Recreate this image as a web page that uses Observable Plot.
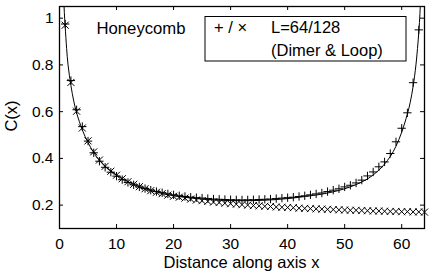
<!DOCTYPE html>
<html><head><meta charset="utf-8">
<script src="https://cdn.jsdelivr.net/npm/d3@7"></script>
<script src="https://cdn.jsdelivr.net/npm/@observablehq/plot@0.6"></script>
<style>body{margin:0;background:#fff} svg{display:block}</style>
</head><body><div id="chart"></div>
<script>
// L=64 (dimer), "+" markers
const plusX = [1,2,3,4,5,6,7,8,9,10,11,12,13,14,15,16,17,18,19,20,21,22,23,24,25,26,27,28,29,30,31,32,
  33,34,35,36,37,38,39,40,41,42,43,44,45,46,47,48,49,50,51,52,53,54,55,56,57,58,59,60,61,62,63];
const plusC = [0.975,0.733,0.608,0.536,0.474,0.424,0.388,0.362,0.341,0.324,0.309,0.297,0.287,0.278,0.271,0.264,
  0.258,0.253,0.248,0.244,0.240,0.237,0.234,0.232,0.230,0.228,0.226,0.225,0.224,0.223,0.2225,0.222,
  0.2225,0.223,0.224,0.225,0.226,0.228,0.230,0.232,0.234,0.237,0.240,0.244,0.248,0.252,0.258,0.264,
  0.270,0.278,0.285,0.295,0.307,0.325,0.342,0.364,0.385,0.421,0.471,0.529,0.595,0.724,0.950];
// L=128 (loop), "x" markers
const timesX = [1,2,3,4,5,6,7,8,9,10,11,12,13,14,15,16,17,18,19,20,21,22,23,24,25,26,27,28,29,30,31,32,
  33,34,35,36,37,38,39,40,41,42,43,44,45,46,47,48,49,50,51,52,53,54,55,56,57,58,59,60,61,62,63,64];
const timesC = [0.970,0.725,0.602,0.530,0.475,0.428,0.393,0.366,0.345,0.328,0.313,0.300,0.289,0.279,0.270,0.262,
  0.255,0.249,0.243,0.238,0.234,0.230,0.226,0.222,0.219,0.216,0.213,0.211,0.208,0.206,0.204,0.202,
  0.200,0.198,0.197,0.195,0.194,0.192,0.191,0.190,0.189,0.187,0.186,0.185,0.184,0.183,0.182,0.181,
  0.180,0.179,0.178,0.178,0.177,0.176,0.175,0.175,0.174,0.173,0.173,0.172,0.172,0.171,0.171,0.170];
// fitted curve for L=64
const fitX = [0.7,0.8,0.9,1,1.25,1.5,2,2.5,3,4,5,6,7,8,10,12,14,16,18,20,24,28,32,36,40,44,46,48,50,52,54,56,57,58,59,60,61,61.5,62,62.5,63,63.2,63.35];
const fitC = [1.12,1.05,1.0,0.962,0.87,0.80,0.712,0.645,0.595,0.522,0.468,0.425,0.392,0.366,0.328,0.300,0.279,0.263,0.250,0.240,0.228,0.221,0.219,0.221,0.228,0.240,0.247,0.257,0.270,0.288,0.312,0.350,0.376,0.408,0.452,0.512,0.59,0.64,0.708,0.80,0.94,1.02,1.10];

const xTicks = [0,10,20,30,40,50,60];
const yTicks = [0.2,0.4,0.6,0.8,1];
const yTickLabels = ["0.2","0.4","0.6","0.8","1"];

const plus = plusX.map((x,i)=>({x, c: plusC[i]}));
const times = timesX.map((x,i)=>({x, c: timesC[i]}));
const fit = fitX.map((x,i)=>({x, c: fitC[i]}));

const W=436, H=274, mL=59, mR=12, mT=6, mB=46;
const iw = W-mL-mR, ih = H-mT-mB;
const font = "'Liberation Sans', Arial, Helvetica, sans-serif";

const chart = Plot.plot({
  width: W, height: H, marginLeft: mL, marginRight: mR, marginTop: mT, marginBottom: mB,
  style: {fontFamily: font, fontSize: "15.5px", background: "#fff", color: "#000"},
  x: {domain: [0, 64]},
  y: {domain: [0.1, 1.05]},
  marks: [
    Plot.line(fit, {x: "x", y: "c", stroke: "#000", strokeWidth: 1, clip: true, curve: "catmull-rom"}),
    Plot.dot(plus, {x: "x", y: "c", symbol: "plus", r: 2.8, stroke: "#000", strokeWidth: 1}),
    Plot.dot(times, {x: "x", y: "c", symbol: "times", r: 3.3, stroke: "#000", strokeWidth: 1}),
    Plot.tickX(xTicks, {x: d=>d, insetTop: ih-4, stroke: "#000"}),
    Plot.tickX(xTicks, {x: d=>d, insetBottom: ih-4, stroke: "#000"}),
    Plot.tickY(yTicks, {y: d=>d, insetRight: iw-4, stroke: "#000"}),
    Plot.tickY(yTicks, {y: d=>d, insetLeft: iw-4, stroke: "#000"}),
    Plot.frame({stroke: "#000", strokeWidth: 1.3}),
    Plot.axisX(xTicks, {tickSize: 0, tickPadding: 9, label: null, fontSize: 15.5}),
    Plot.axisY(yTicks, {tickSize: 0, tickPadding: 6, label: null, fontSize: 15.5,
      tickFormat: d => yTickLabels[yTicks.indexOf(d)]})
  ]
});
document.getElementById("chart").append(chart);

const svg = d3.select(chart);
const g = svg.append("g").attr("font-family", font).attr("fill", "#000").attr("text-anchor", "start");
g.append("text").attr("x", 96.5).attr("y", 34.3).attr("font-size", 16.7).text("Honeycomb");
g.append("rect").attr("x", 205).attr("y", 16.5).attr("width", 201).attr("height", 44.5)
  .attr("fill", "#fff").attr("stroke", "#000").attr("stroke-width", 1);
g.append("text").attr("x", 214).attr("y", 33.3).attr("font-size", 16.5).attr("xml:space","preserve").text("+ / \u00d7");
g.append("text").attr("x", 271).attr("y", 33.3).attr("font-size", 16.5).text("L=64/128");
g.append("text").attr("x", 271).attr("y", 56).attr("font-size", 16.5).text("(Dimer & Loop)");
g.append("text").attr("transform", "translate(17,116) rotate(-90)").attr("text-anchor", "middle")
  .attr("font-size", 16.5).text("C(x)");
g.append("text").attr("x", 241.5).attr("y", 268).attr("text-anchor", "middle")
  .attr("font-size", 16.5).text("Distance along axis x");
</script></body></html>
